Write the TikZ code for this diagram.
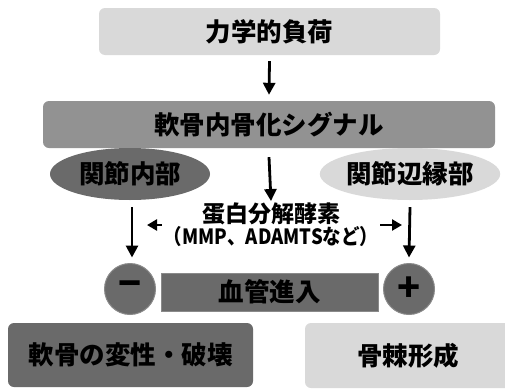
\documentclass[tikz,border=0pt]{standalone}
\usepackage{fontspec}
\setmainfont{Noto Sans CJK JP}
\usetikzlibrary{arrows.meta,shapes.geometric}
\definecolor{lightg}{HTML}{D9D9D9}
\definecolor{midg}{HTML}{929292}
\definecolor{darkg}{HTML}{6A6A6A}
\definecolor{edgeg}{HTML}{8A8A8A}
\tikzset{
  big/.style={font=\fontsize{25.5}{28}\selectfont\bfseries},
  box/.style={rectangle, rounded corners=6pt, inner sep=0pt, big},
  oval/.style={ellipse, inner sep=0pt, minimum width=160pt, minimum height=52pt, big},
  sign/.style={circle, fill=darkg, draw=edgeg, line width=1pt, minimum size=51pt, inner sep=0pt, font=\fontsize{38}{40}\selectfont\bfseries},
  arr/.style={line width=2.8pt, -{Triangle[length=12pt,width=12pt]}},
  harr/.style={line width=2.8pt, -{Triangle[length=10pt,width=11pt]}}
}
\begin{document}
\begin{tikzpicture}[x=1pt,y=-1pt]
\useasboundingbox (0,0) rectangle (505,388);
\fill[white] (0,0) rectangle (505,388);
\node[box, fill=lightg, minimum width=341pt, minimum height=47pt] (top) at (269.5,31.5) {力学的負荷};
\node[box, fill=midg, minimum width=452pt, minimum height=47pt] (sig) at (269,124.5) {軟骨内骨化シグナル};
\node[oval, fill=darkg] (inner) at (130,174) {関節内部};
\node[oval, fill=lightg] (edge) at (410,174) {関節辺縁部};
\node[inner sep=0pt, align=center, font=\bfseries] (prot) at (271,225)
  {{\fontsize{23}{23}\selectfont 蛋白分解酵素}\\[0pt]{\fontsize{21}{21}\selectfont\addfontfeature{FakeStretch=0.88}（MMP、ADAMTSなど）}};
\node[sign] (minus) at (130,289) {−};
\node[sign] (plus) at (409,289) {+};
\node[rectangle, fill=darkg, draw=edgeg, line width=0.8pt, minimum width=217pt, minimum height=38pt, inner sep=0pt, big] (vasc) at (269.5,292) {血管進入};
\node[box, fill=darkg, minimum width=245pt, minimum height=64pt] (destr) at (130.5,355) {軟骨の変性・破壊};
\node[box, fill=lightg, minimum width=206pt, minimum height=65pt] (osteo) at (408,355.5) {骨棘形成};
\coordinate (hl) at (147,225);
\coordinate (hr) at (402,225);
\draw[arr] ([yshift=-6pt]top.south) -- ([yshift=6pt]sig.north);
\draw[arr] ([yshift=-9pt]sig.south) -- ([yshift=2pt]prot.north);
\draw[arr] ([xshift=2pt,yshift=-7pt]inner.south) -- ([xshift=2pt,yshift=5.5pt]minus.north);
\draw[arr] ([yshift=-7pt]edge.south) -- ([yshift=5.5pt]plus.north);
\draw[harr] ([xshift=-2pt]prot.west) -- (hl);
\draw[harr] ([xshift=2pt]prot.east) -- (hr);
\end{tikzpicture}
\end{document}
